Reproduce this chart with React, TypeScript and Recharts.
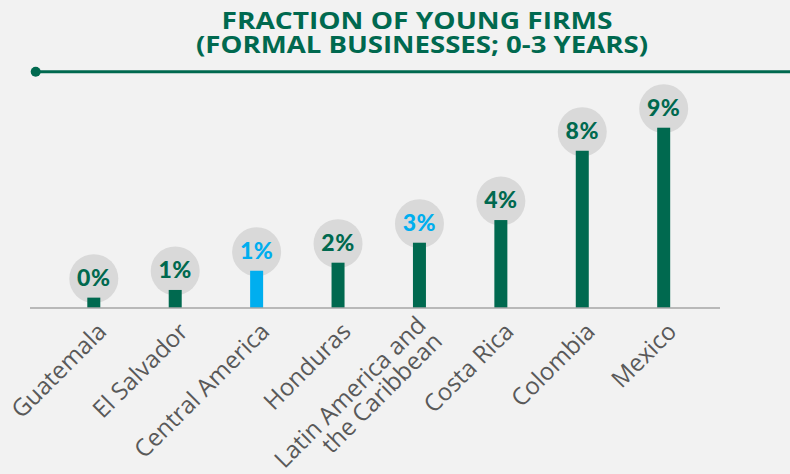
import React from "react";
import { BarChart, Bar, XAxis, YAxis, LabelList, Cell } from "recharts";

const categories = [
  "Guatemala",
  "El Salvador",
  "Central America",
  "Honduras",
  "Latin America and the Caribbean",
  "Costa Rica",
  "Colombia",
  "Mexico",
];
const values = [0.54, 0.94, 1.94, 2.36, 3.4, 4.58, 8.19, 9.39];
const valueLabels = ["0%", "1%", "1%", "2%", "3%", "4%", "8%", "9%"];
const highlighted = [false, false, true, false, false, false, false, false];
const labelHighlighted = [false, false, true, false, true, false, false, false];
const titleLines = ["FRACTION OF YOUNG FIRMS", "(FORMAL BUSINESSES; 0-3 YEARS)"];

const GREEN = "#00694f";
const BLUE = "#00aeef";
const BG = "#f2f2f2";

const data = categories.map((c, i) => ({
  name: c,
  value: values[i],
  label: valueLabels[i],
  hl: highlighted[i],
  lhl: labelHighlighted[i],
}));

const BarShape = (props: any) => {
  const { x, y, width, height, fill } = props;
  const cx = x + width / 2;
  return (
    <g>
      <circle cx={cx} cy={y - 19} r={24.5} fill="#d9d9d9" />
      <rect x={x} y={y} width={width} height={height} fill={fill} />
    </g>
  );
};

const ValueLabel = (props: any) => {
  const { x, y, width, index } = props;
  const cx = x + width / 2;
  const d = data[index];
  return (
    <text
      x={cx}
      y={y - 19}
      dy={7}
      textAnchor="middle"
      fontFamily="Lato, 'Noto Sans', sans-serif"
      fontWeight={900}
      fontSize={23}
      letterSpacing={0.5}
      fill={d.lhl ? BLUE : GREEN}
    >
      {d.label}
    </text>
  );
};

const Tick = (props: any) => {
  const { x, payload } = props;
  const label: string = payload.value;
  const common = {
    textAnchor: "end" as const,
    fontFamily: "'Open Sans', 'Noto Sans', sans-serif",
    fontSize: 24,
    fill: "#595959",
  };
  const tx = x + 14;
  const ty = 333;
  if (label === "Latin America and the Caribbean") {
    return (
      <g transform={`translate(${tx},${ty}) rotate(-45)`}>
        <text {...common} x={0} y={-9}>
          Latin America and
        </text>
        <text {...common} x={0} y={14}>
          the Caribbean
        </text>
      </g>
    );
  }
  return (
    <g transform={`translate(${tx},${ty}) rotate(-45)`}>
      <text {...common} x={0} y={0}>
        {label}
      </text>
    </g>
  );
};

export default function App() {
  return (
    <div
      style={{
        position: "absolute",
        left: 0,
        top: 0,
        width: 790,
        height: 474,
        background: BG,
        overflow: "hidden",
      }}
    >
      <BarChart
        width={790}
        height={474}
        data={data}
        margin={{ top: 116, right: 70, bottom: 0, left: 30 }}
      >
        <XAxis
          dataKey="name"
          height={166}
          interval={0}
          tickLine={false}
          axisLine={{ stroke: "#a6a6a6", strokeWidth: 1.5 }}
          padding={{ left: 23.3, right: 15.4 }}
          tick={<Tick />}
        />
        <YAxis hide domain={[0, 10]} />
        <Bar
          dataKey="value"
          barSize={13}
          isAnimationActive={false}
          shape={<BarShape />}
        >
          {data.map((d, i) => (
            <Cell key={i} fill={d.hl ? BLUE : GREEN} />
          ))}
          <LabelList dataKey="value" content={<ValueLabel />} />
        </Bar>
      </BarChart>
      <svg
        width={790}
        height={474}
        style={{ position: "absolute", left: 0, top: 0, pointerEvents: "none" }}
      >
        <text
          x={417}
          y={28.5}
          textAnchor="middle"
          fontFamily="'Open Sans', 'Noto Sans', sans-serif"
          fontWeight={700}
          fontSize={24}
          fill={GREEN}
          textLength={391}
          lengthAdjust="spacingAndGlyphs"
        >
          {titleLines[0]}
        </text>
        <text
          x={422}
          y={52.5}
          textAnchor="middle"
          fontFamily="'Open Sans', 'Noto Sans', sans-serif"
          fontWeight={700}
          fontSize={24}
          fill={GREEN}
          textLength={452}
          lengthAdjust="spacingAndGlyphs"
        >
          {titleLines[1]}
        </text>
        <line x1={36} y1={71.7} x2={790} y2={71.7} stroke={GREEN} strokeWidth={3} />
        <circle cx={35.7} cy={71.7} r={5} fill={GREEN} />
      </svg>
    </div>
  );
}
